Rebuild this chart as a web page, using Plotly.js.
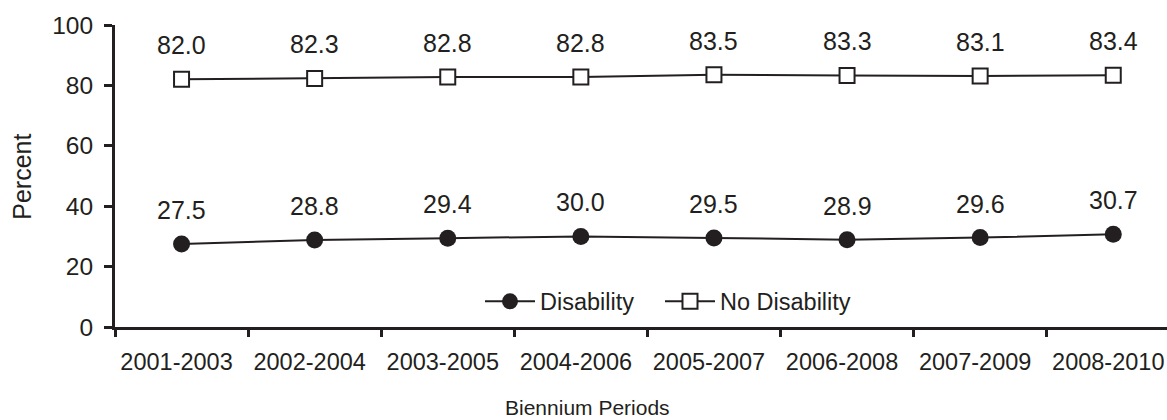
<!DOCTYPE html>
<html>
<head>
<meta charset="utf-8">
<script src="https://cdn.plot.ly/plotly-3.0.1.min.js"></script>
<style>
  html, body { margin: 0; padding: 0; background: #ffffff; }
  #chart { width: 1167px; height: 420px; }
</style>
</head>
<body>
<div id="chart"></div>
<script>
// ---- data ----
var categories = ["2001-2003", "2002-2004", "2003-2005", "2004-2006", "2005-2007", "2006-2008", "2007-2009", "2008-2010"];
var disability = [27.5, 28.8, 29.4, 30.0, 29.5, 28.9, 29.6, 30.7];
var noDisability = [82.0, 82.3, 82.8, 82.8, 83.5, 83.3, 83.1, 83.4];
var seriesNames = ["Disability", "No Disability"];
var yTicks = [0, 20, 40, 60, 80, 100];

var ink = "#231f20";
var fontFamily = "'Liberation Sans', Arial, Helvetica, sans-serif";

var traces = [
  {
    type: "scatter", mode: "lines+markers", name: seriesNames[0], legend: "legend",
    x: categories, y: disability,
    line: { color: ink, width: 2 },
    marker: { symbol: "circle", size: 17, color: ink, line: { width: 0 } }
  },
  {
    type: "scatter", mode: "lines+markers", name: seriesNames[1], legend: "legend2",
    x: categories, y: noDisability,
    line: { color: ink, width: 2 },
    marker: { symbol: "square", size: 15, color: "#ffffff", line: { width: 2, color: ink } }
  }
];

var annotations = [];
function addLabels(vals) {
  for (var i = 0; i < categories.length; i++) {
    annotations.push({
      x: categories[i], y: vals[i], xref: "x", yref: "y",
      text: vals[i].toFixed(1), showarrow: false,
      yanchor: "middle", yshift: 34,
      font: { family: fontFamily, size: 25, color: ink }
    });
  }
}
addLabels(disability);
addLabels(noDisability);

var mL = 115, W = 1167, H = 420, mT = 25, mB = 92.5;
var pw = W - mL, ph = H - mT - mB;
var step = 133.1;
function px2paperX(px) { return (px - mL) / pw; }
function px2paperY(py) { return (H - mB - py) / ph; }

annotations.push({
  xref: "paper", yref: "paper", x: px2paperX(587), y: px2paperY(408),
  xanchor: "center", yanchor: "middle", showarrow: false,
  text: "Biennium Periods", font: { family: fontFamily, size: 21, color: ink }
});
annotations.push({
  xref: "paper", yref: "paper", x: px2paperX(22), y: px2paperY(177),
  xanchor: "center", yanchor: "middle", showarrow: false, textangle: -90,
  text: "Percent", font: { family: fontFamily, size: 25, color: ink }
});

function legendAt(px) {
  return {
    orientation: "h", x: px2paperX(px), xanchor: "left",
    y: px2paperY(302), yanchor: "middle",
    bgcolor: "rgba(0,0,0,0)", borderwidth: 0,
    itemwidth: 50,
    font: { family: fontFamily, size: 23.5, color: ink }
  };
}

var layout = {
  width: W, height: H,
  margin: { l: mL, r: 0, t: mT, b: mB, pad: 0 },
  paper_bgcolor: "#ffffff", plot_bgcolor: "#ffffff",
  font: { family: fontFamily, size: 24, color: ink },
  showlegend: true,
  legend: legendAt(480),
  legend2: legendAt(660),
  xaxis: {
    type: "category",
    range: [-0.5, -0.5 + pw / step],
    tickson: "boundaries",
    ticks: "outside", ticklen: 7, tickwidth: 3, tickcolor: ink,
    showline: true, linecolor: ink, linewidth: 3,
    showgrid: false, zeroline: false,
    tickfont: { family: fontFamily, size: 23.5, color: ink },
    ticklabelstandoff: 12,
    ticklabelshift: -5,
    fixedrange: true
  },
  yaxis: {
    range: [0, 100],
    tickvals: yTicks, ticktext: yTicks.map(String),
    ticks: "outside", ticklen: 8, tickwidth: 3, tickcolor: ink,
    showline: true, linecolor: ink, linewidth: 3,
    showgrid: false, zeroline: false,
    tickfont: { family: fontFamily, size: 24.5, color: ink },
    ticklabelstandoff: 6,
    fixedrange: true
  },
  annotations: annotations
};

Plotly.newPlot("chart", traces, layout, { displayModeBar: false, staticPlot: true });
</script>
</body>
</html>
